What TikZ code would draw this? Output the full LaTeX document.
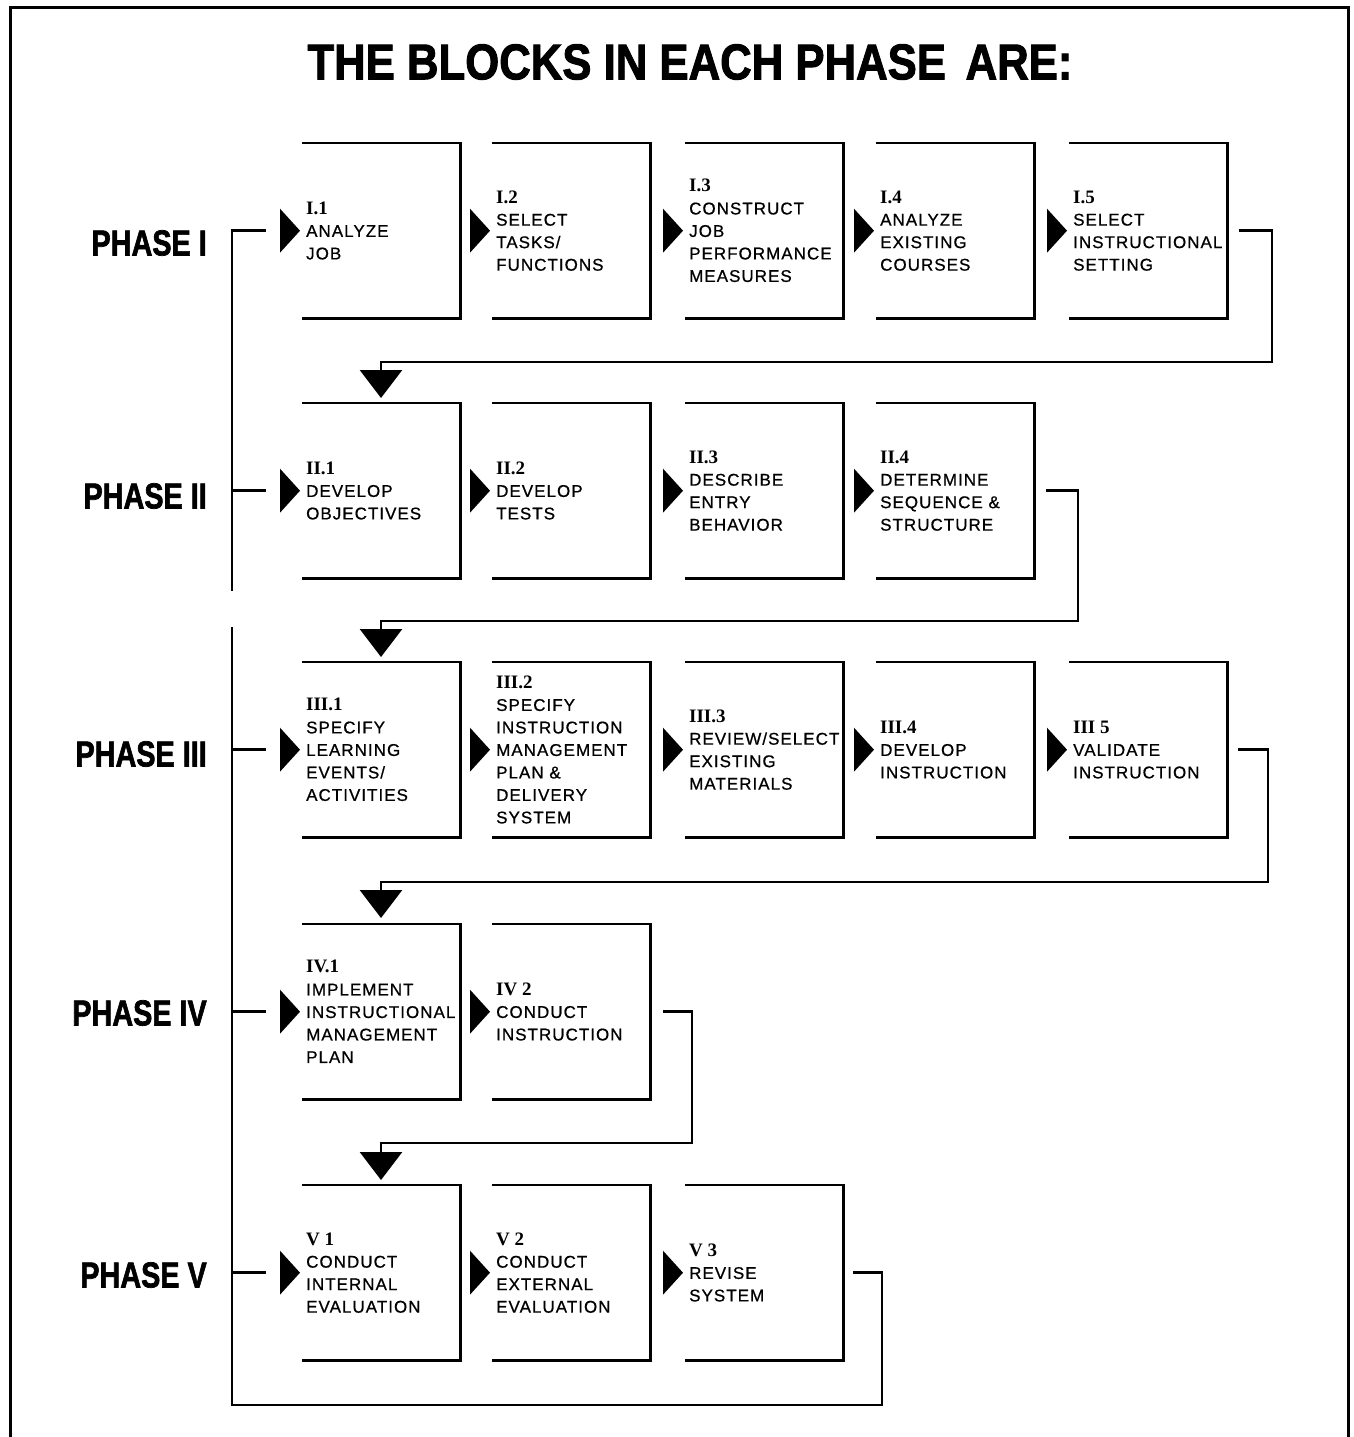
\documentclass[tikz,border=0pt]{standalone}
\usepackage{fontspec}
\setmainfont{Liberation Sans}
\newfontfamily\blockfont{Liberation Sans}[LetterSpace=6,FakeBold=0.7]
\newfontfamily\numfont{Liberation Serif Bold}
\newfontfamily\heavyfont{Liberation Sans Bold}[FakeBold=2]
\usetikzlibrary{arrows.meta,calc}
\newcommand\nm[1]{{\numfont\fontsize{19}{22.5}\selectfont #1}}
\newcommand\mkblock[4]{%
  \node[blk] (#1) at (#2,#3) {};
  \draw[edge] (#1.north west) -- (#1.north east) -- (#1.south east) -- (#1.south west);
  \fill ([xshift=-23pt,yshift=22pt]#1.west) -- ([xshift=-3pt]#1.west) -- ([xshift=-23pt,yshift=-22pt]#1.west) -- cycle;
  \node[txt] (#1t) at ([xshift=3pt]#1.west) {#4};
}
\newcommand\phlabel[3]{%
  \node[ph] (#1) at (207,#2) {\scalebox{0.8}[1]{\heavyfont\fontsize{36}{36}\selectfont #3}};
}
\begin{document}
\begin{tikzpicture}[x=1pt,y=-1pt,
  blk/.style={rectangle, inner sep=0pt, minimum width=157pt, minimum height=175pt, anchor=north west},
  txt/.style={anchor=west, align=left, inner sep=0pt, font=\blockfont\fontsize{17}{22.5}\selectfont},
  edge/.style={line width=2.8pt, line join=miter, line cap=rect},
  conn/.style={line width=2.8pt, line cap=rect},
  ph/.style={anchor=east, inner sep=0pt},
  arr/.style={-{Triangle[width=42pt,length=28pt]}}
]
\useasboundingbox (0,0) rectangle (1354,1437);
% page frame
\draw[line width=3pt] (10,1450) -- (10,8) -- (1348,8) -- (1348,1450);
% title
\node (title) at (690,62) {\resizebox{765pt}{35pt}{\heavyfont THE BLOCKS IN EACH PHASE\hspace{0.45em}ARE:}};
% phase labels
\phlabel{p1}{243}{PHASE I}
\phlabel{p2}{496}{PHASE II}
\phlabel{p3}{754}{PHASE III}
\phlabel{p4}{1013}{PHASE IV}
\phlabel{p5}{1275}{PHASE V}
% row 1
\mkblock{I1}{303}{143}{\nm{I.1}\\ANALYZE\\JOB}
\mkblock{I2}{493}{143}{\nm{I.2}\\SELECT\\TASKS/\\FUNCTIONS}
\mkblock{I3}{686}{143}{\nm{I.3}\\CONSTRUCT\\JOB\\PERFORMANCE\\MEASURES}
\mkblock{I4}{877}{143}{\nm{I.4}\\ANALYZE\\EXISTING\\COURSES}
\mkblock{I5}{1070}{143}{\nm{I.5}\\SELECT\\INSTRUCTIONAL\\SETTING}
% row 2
\mkblock{II1}{303}{403}{\nm{II.1}\\DEVELOP\\OBJECTIVES}
\mkblock{II2}{493}{403}{\nm{II.2}\\DEVELOP\\TESTS}
\mkblock{II3}{686}{403}{\nm{II.3}\\DESCRIBE\\ENTRY\\BEHAVIOR}
\mkblock{II4}{877}{403}{\nm{II.4}\\DETERMINE\\SEQUENCE \&\\STRUCTURE}
% row 3
\mkblock{III1}{303}{662}{\nm{III.1}\\SPECIFY\\LEARNING\\EVENTS/\\ACTIVITIES}
\mkblock{III2}{493}{662}{\nm{III.2}\\SPECIFY\\INSTRUCTION\\MANAGEMENT\\PLAN \&\\DELIVERY\\SYSTEM}
\mkblock{III3}{686}{662}{\nm{III.3}\\REVIEW/SELECT\\EXISTING\\MATERIALS}
\mkblock{III4}{877}{662}{\nm{III.4}\\DEVELOP\\INSTRUCTION}
\mkblock{III5}{1070}{662}{\nm{III 5}\\VALIDATE\\INSTRUCTION}
% row 4
\mkblock{IV1}{303}{924}{\nm{IV.1}\\IMPLEMENT\\INSTRUCTIONAL\\MANAGEMENT\\PLAN}
\mkblock{IV2}{493}{924}{\nm{IV 2}\\CONDUCT\\INSTRUCTION}
% row 5
\mkblock{V1}{303}{1185}{\nm{V 1}\\CONDUCT\\INTERNAL\\EVALUATION}
\mkblock{V2}{493}{1185}{\nm{V 2}\\CONDUCT\\EXTERNAL\\EVALUATION}
\mkblock{V3}{686}{1185}{\nm{V 3}\\REVISE\\SYSTEM}
% connectors between phases
\coordinate (k1) at (1272,362);  \coordinate (a2) at (381,398);
\coordinate (k2) at (1078,621);  \coordinate (a3) at (381,657);
\coordinate (k3) at (1268,882);  \coordinate (a4) at (381,918);
\coordinate (k4) at (692,1143);  \coordinate (a5) at (381,1180);
\draw[conn,arr] ([xshift=13pt]I5.east) -| (k1) -| (a2);
\draw[conn,arr] ([xshift=13pt]II4.east) -| (k2) -| (a3);
\draw[conn,arr] ([xshift=12pt]III5.east) -| (k3) -| (a4);
\draw[conn,arr] ([xshift=14pt]IV2.east) -| (k4) -| (a5);
% feedback loop
\coordinate (k5) at (882,1405);
\coordinate (lb) at (232,1405);
\coordinate (lg) at (232,628);
\coordinate (lt) at (232,590);
\draw[conn] ([xshift=11pt]V3.east) -| (k5) -- (lb) -- (lg);
\draw[conn] (lt) -- (lt |- I1.west) -- ([xshift=-38pt]I1.west);
% phase stubs
\foreach \b in {II1,III1,IV1,V1}{
  \draw[conn] (lb |- \b.west) -- ([xshift=-38pt]\b.west);
}
\end{tikzpicture}
\end{document}
